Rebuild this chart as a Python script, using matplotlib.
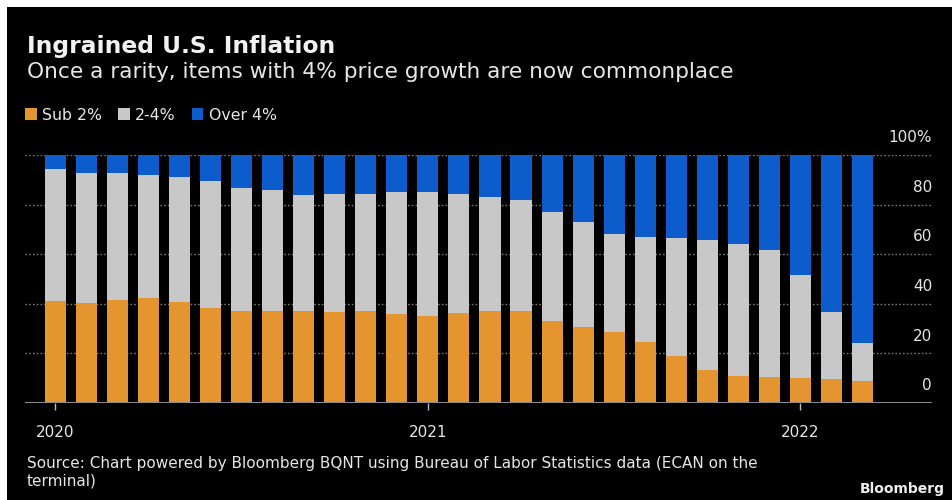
import matplotlib
matplotlib.use("Agg")
import matplotlib.pyplot as plt
from matplotlib.patches import Rectangle
import numpy as np

# ---- data ----
months = ["Jan 2020", "Feb 2020", "Mar 2020", "Apr 2020", "May 2020", "Jun 2020",
          "Jul 2020", "Aug 2020", "Sep 2020", "Oct 2020", "Nov 2020", "Dec 2020",
          "Jan 2021", "Feb 2021", "Mar 2021", "Apr 2021", "May 2021", "Jun 2021",
          "Jul 2021", "Aug 2021", "Sep 2021", "Oct 2021", "Nov 2021", "Dec 2021",
          "Jan 2022", "Feb 2022", "Mar 2022"]
sub_2 = [41.2, 40.3, 41.6, 42.3, 40.7, 38.3, 36.9, 36.9, 36.9, 36.5, 36.9, 36.0,
         35.2, 36.2, 36.9, 36.9, 32.9, 30.5, 28.5, 24.6, 19.1, 13.4, 11.0, 10.5,
         10.1, 9.7, 9.0]
two_to_four = [53.0, 52.3, 51.0, 49.6, 50.3, 51.2, 49.9, 49.0, 47.0, 47.8, 47.4, 49.0,
               49.8, 48.1, 46.3, 45.0, 44.3, 42.4, 39.7, 42.5, 47.6, 52.4, 53.0, 51.2,
               41.6, 26.8, 15.2]
over_4 = [5.8, 7.4, 7.4, 8.1, 9.0, 10.5, 13.2, 14.1, 16.1, 15.7, 15.7, 15.0,
          15.0, 15.7, 16.8, 18.1, 22.8, 27.1, 31.8, 32.9, 33.3, 34.2, 36.0, 38.3,
          48.3, 63.5, 75.8]
series_labels = ["Sub 2%", "2-4%", "Over 4%"]
year_ticks = ["2020", "2021", "2022"]
y_ticks = [0, 20, 40, 60, 80, 100]
y_tick_labels = ["0", "20", "40", "60", "80", "100%"]

title = "Ingrained U.S. Inflation"
subtitle = "Once a rarity, items with 4% price growth are now commonplace"
source = ("Source: Chart powered by Bloomberg BQNT using Bureau of Labor Statistics data (ECAN on the\n"
          "terminal)")

# ---- style ----
c_orange = "#E5952F"
c_gray = "#C8C8C8"
c_blue = "#0C5CCB"
txt = "#E6E6E6"

W, H = 952, 500
fig = plt.figure(figsize=(W / 100, H / 100), dpi=100, facecolor="white")
# black panel (screenshot has a thin white strip at top/left)
fig.patches.append(Rectangle((7 / W, 0), 1 - 7 / W, 1 - 7 / H, transform=fig.transFigure,
                             facecolor="black", edgecolor="none", zorder=-10))

ax_l, ax_r = 25 / W, 932 / W
ax_b, ax_t = 1 - 403 / H, 1 - 155 / H
ax = fig.add_axes([ax_l, ax_b, ax_r - ax_l, ax_t - ax_b])
ax.set_zorder(2)
ax.patch.set_alpha(0)

x = np.arange(len(months))
s1 = np.array(sub_2)
s2 = np.array(two_to_four)
s3 = np.array(over_4)
w = 0.68
b1 = ax.bar(x, s1, width=w, color=c_orange, zorder=3)
b2 = ax.bar(x, s2, bottom=s1, width=w, color=c_gray, zorder=3)
b3 = ax.bar(x, s3, bottom=s1 + s2, width=w, color=c_blue, zorder=3)

ax.set_xlim(-0.98, 28.24)
ax.set_ylim(0, 100)
for s in ax.spines.values():
    s.set_visible(False)

for v in y_ticks[1:]:
    ax.axhline(v, color="#777777", lw=1.0, ls=(0, (1.2, 1.5)), zorder=1)
ax.axhline(0, color="#8c8c8c", lw=2.2, zorder=4)

ax.set_yticks([])
for v, lab in zip(y_ticks, y_tick_labels):
    ax.annotate(lab, xy=(1.0, v), xycoords=("axes fraction", "data"),
                xytext=(0, 12.5), textcoords="offset points",
                ha="right", va="center", color=txt, fontsize=11,
                annotation_clip=False)

year_pos = [months.index("Jan " + y) for y in year_ticks]
ax.set_xticks(year_pos)
ax.set_xticklabels(year_ticks, color=txt, fontsize=11)
ax.tick_params(axis="x", length=5, width=1, color="#bbbbbb", pad=11)

# ---- texts ----
fig.text(27 / W, 1 - 47 / H, title, color="#F2F2F2", fontsize=16.8,
         fontweight="bold", ha="left", va="center")
fig.text(27 / W, 1 - 72 / H, subtitle, color=txt, fontsize=15.55,
         ha="left", va="center")

leg = fig.legend([b1, b2, b3], series_labels, loc="center left",
                 bbox_to_anchor=(25 / W, 1 - 115 / H), ncol=3, frameon=False,
                 fontsize=11.3, handlelength=0.75, handleheight=0.75,
                 handletextpad=0.35, columnspacing=1.0, labelcolor=txt,
                 borderaxespad=0, borderpad=0)

fig.text(27 / W, 1 - 472 / H, source, color=txt, fontsize=11,
         ha="left", va="center", linespacing=1.2,
         fontfamily=["Liberation Sans Narrow", "DejaVu Sans"])
fig.text(945 / W, 1 - 489 / H, "Bloomberg", color="#EDEDED", fontsize=10,
         fontweight="bold", ha="right", va="center")

fig.savefig("out.png", dpi=100, facecolor=fig.get_facecolor())
